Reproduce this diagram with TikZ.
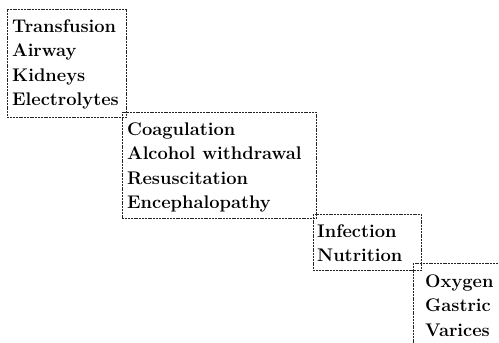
\documentclass[tikz,border=0pt]{standalone}
\begin{document}
\begin{tikzpicture}[x=1pt,y=-1pt,
  box/.style={draw=black!85, line width=0.6pt, dash pattern=on 2pt off 0.8pt, anchor=north west, inner sep=0pt},
  txt/.style={anchor=base west, inner sep=0pt, font=\fontsize{18.3}{22}\selectfont\bfseries}]
\useasboundingbox (0,0) rectangle (499,343);
\clip (0,0) rectangle (499,343);
\node[box, minimum width=119pt, minimum height=108pt] (b1) at (7,9) {};
\node[box, minimum width=194pt, minimum height=106pt] (b2) at (122,112) {};
\node[box, minimum width=108pt, minimum height=56pt] (b3) at (313,214) {};
\node[box, minimum width=100pt, minimum height=100pt] (b4) at (413,263) {};
% box 1
\node[txt] (t1) at (12,32) {Transfusion};
\node[txt] (t2) at (12,56.5) {Airway};
\node[txt] (t3) at (12,81) {Kidneys};
\node[txt] (t4) at (12,105.5) {Electrolytes};
% box 2
\node[txt] (t5) at (127,135) {Coagulation};
\node[txt] (t6) at (127,159.5) {Alcohol withdrawal};
\node[txt] (t7) at (127,184) {Resuscitation};
\node[txt] (t8) at (127,208.5) {Encephalopathy};
% box 3
\node[txt] (t9) at (317,237) {Infection};
\node[txt] (t10) at (317,261.5) {Nutrition};
% box 4
\node[txt] (t11) at (425,287) {Oxygen};
\node[txt] (t12) at (425,311.5) {Gastric};
\node[txt] (t13) at (425,336) {Varices};
\end{tikzpicture}
\end{document}
